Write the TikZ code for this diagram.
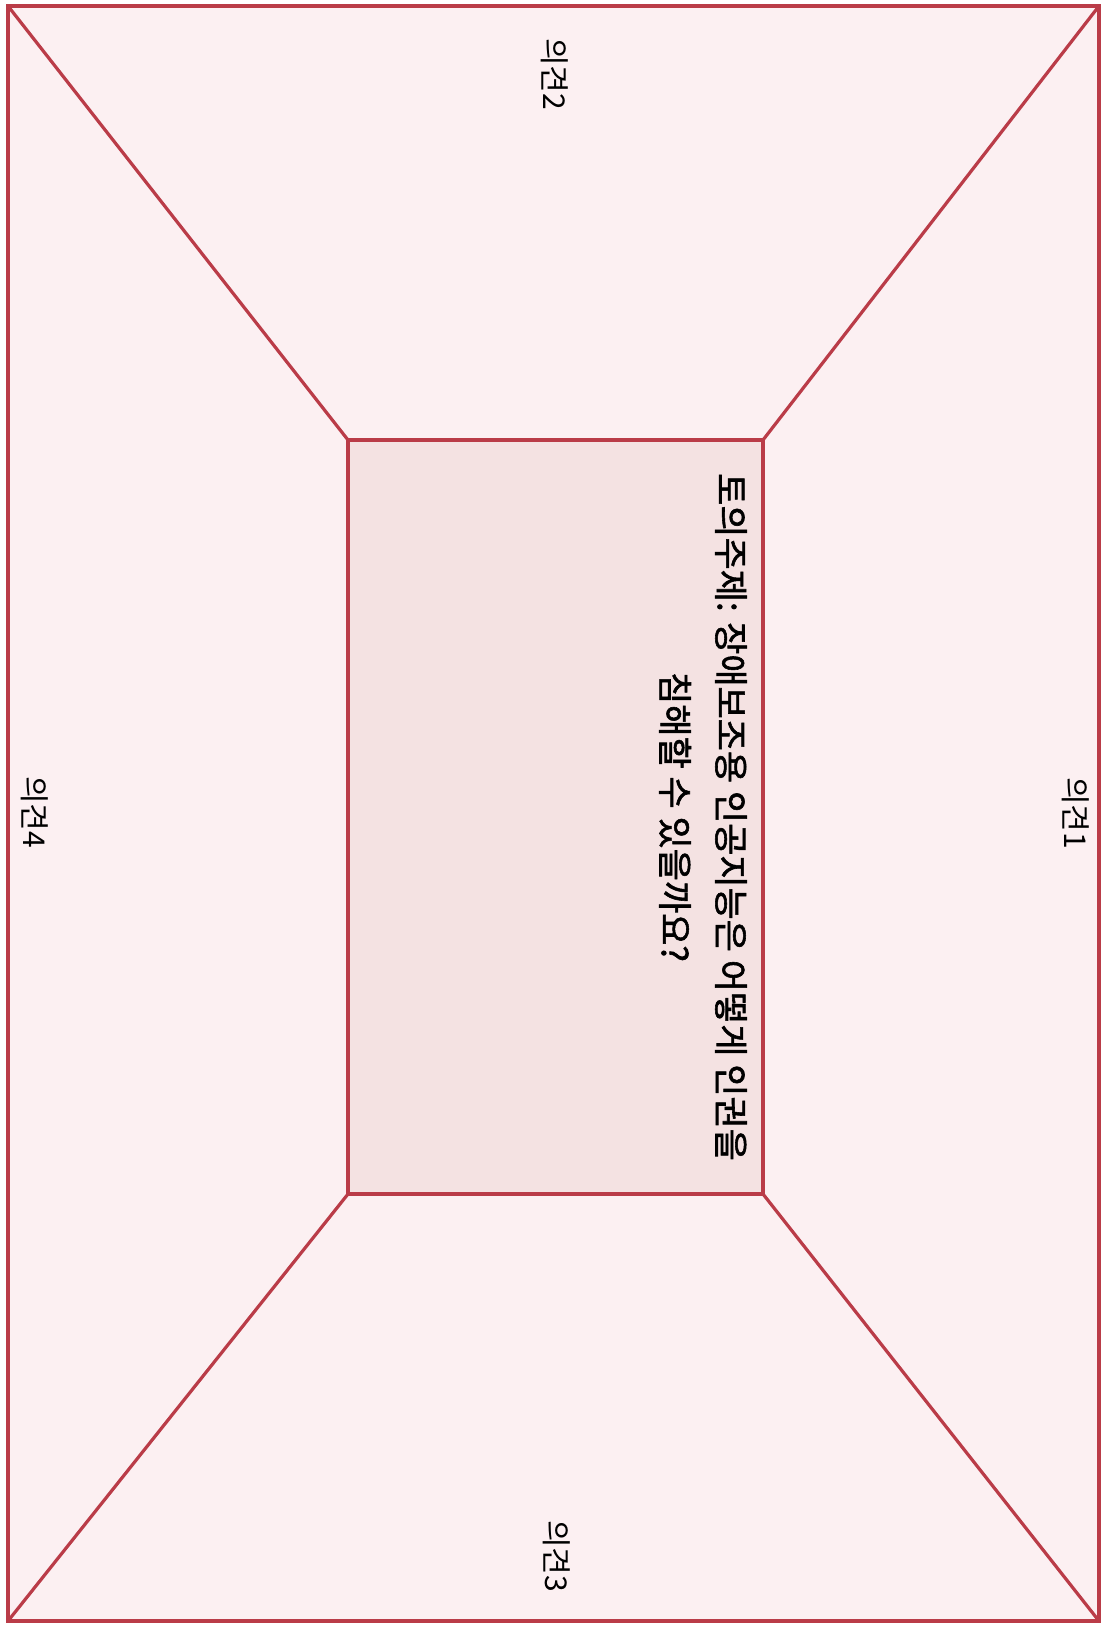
\documentclass[tikz,border=0pt]{standalone}
\usepackage{fontspec}
\newfontfamily\kofont{Noto Sans CJK KR}
\newfontfamily\kotitle[FakeBold=1.6]{Noto Sans CJK KR}
\definecolor{matline}{RGB}{186,60,72}
\definecolor{matouter}{RGB}{252,240,242}
\definecolor{matinner}{RGB}{244,226,226}

\begin{document}
\begin{tikzpicture}[x=1pt,y=-1pt,line width=3.2pt,
    opinion/.style={rotate=-90,inner sep=0pt,font=\kofont\fontsize{30}{34}\selectfont},
    topic/.style={rotate=-90,inner sep=0pt,align=center,font=\kotitle\fontsize{35}{56}\selectfont}]
  \useasboundingbox (0,0) rectangle (1102,1626);
  % outer and inner corners
  \coordinate (o1) at (8,6);
  \coordinate (o2) at (1099,6);
  \coordinate (o3) at (1099,1621);
  \coordinate (o4) at (8,1621);
  \coordinate (i1) at (348,440);
  \coordinate (i2) at (763,440);
  \coordinate (i3) at (763,1194);
  \coordinate (i4) at (348,1194);
  \fill[matouter] (o1) rectangle (o3);
  \fill[matinner] (i1) rectangle (i3);
  \draw[matline] (o1) rectangle (o3);
  \draw[matline] (i1) rectangle (i3);
  \draw[matline] (o1)--(i1) (o2)--(i2) (o3)--(i3) (o4)--(i4);
  % texts
  \node[topic] (theme) at (703,817)
    {토의주제: 장애보조용 인공지능은 어떻게 인권을\\침해할 수 있을까요?};
  \node[opinion] (op1) at (1076,813) {의견1};
  \node[opinion] (op2) at (555,74) {의견2};
  \node[opinion] (op3) at (557,1556) {의견3};
  \node[opinion] (op4) at (35,812) {의견4};
\end{tikzpicture}
\end{document}
